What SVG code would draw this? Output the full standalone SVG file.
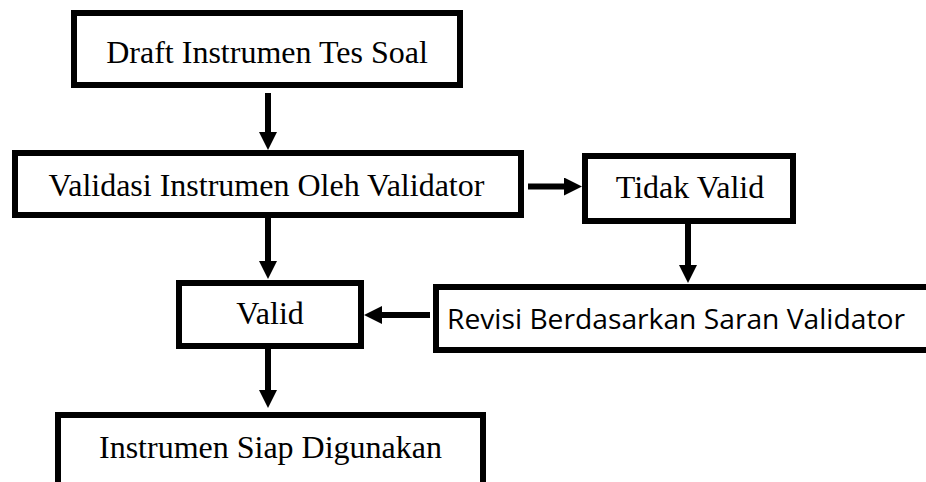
<svg xmlns="http://www.w3.org/2000/svg" width="926" height="482" viewBox="0 0 926 482">
<style>
.box{fill:#fff;stroke:#000;stroke-width:6}
.t{font-family:"Liberation Serif","Times New Roman",serif;font-size:32px;fill:#000;text-anchor:middle}
.s{font-family:"Open Sans","Noto Sans",sans-serif;font-size:28px;fill:#000;text-anchor:middle}
.c{stroke:#000;stroke-width:6;fill:none;marker-end:url(#ah)}
</style>
<defs>
<marker id="ah" viewBox="0 0 18 18" refX="2" refY="9" markerWidth="18" markerHeight="18" markerUnits="userSpaceOnUse" orient="auto">
<path d="M0,0 L18,9 L0,18 Z" fill="#000"/>
</marker>
</defs>
<rect width="926" height="482" fill="#fff"/>
<g id="connectors">
<line class="c" x1="268" y1="93" x2="268" y2="134"/>
<line class="c" x1="528" y1="186.5" x2="566" y2="186.5"/>
<line class="c" x1="688" y1="224" x2="688" y2="267"/>
<line class="c" x1="430" y1="315" x2="380" y2="315"/>
<line class="c" x1="268" y1="218" x2="268" y2="263"/>
<line class="c" x1="268" y1="349" x2="268" y2="392"/>
</g>
<g id="draft">
<rect class="box" x="74" y="13" width="386" height="72"/>
<text class="t" x="267" y="63">Draft Instrumen Tes Soal</text>
</g>
<g id="validasi">
<rect class="box" x="15" y="153" width="506" height="62"/>
<text class="t" x="266.5" y="196">Validasi Instrumen Oleh Validator</text>
</g>
<g id="tidak-valid">
<rect class="box" x="585" y="156" width="208" height="65"/>
<text class="t" x="690" y="198">Tidak Valid</text>
</g>
<g id="revisi">
<rect class="box" x="436" y="287" width="500" height="63"/>
<text class="s" x="676" y="329" textLength="458" lengthAdjust="spacingAndGlyphs">Revisi Berdasarkan Saran Validator</text>
</g>
<g id="valid">
<rect class="box" x="179" y="283" width="182" height="63"/>
<text class="t" x="270" y="324">Valid</text>
</g>
<g id="siap">
<rect class="box" x="58" y="415" width="425" height="80"/>
<text class="t" x="270.5" y="458">Instrumen Siap Digunakan</text>
</g>
</svg>
